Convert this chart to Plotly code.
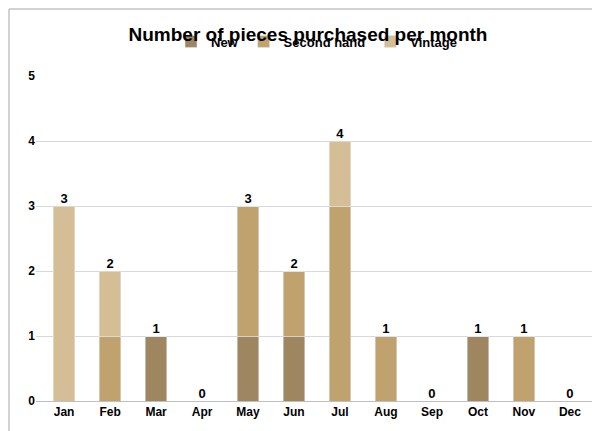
import plotly.graph_objects as go

months = ["Jan","Feb","Mar","Apr","May","Jun","Jul","Aug","Sep","Oct","Nov","Dec"]
new = [0,0,1,0,1,1,0,0,0,1,0,0]
second = [0,1,0,0,2,1,3,1,0,0,1,0]
vintage = [3,1,0,0,0,0,1,0,0,0,0,0]
totals = [a+b+c for a,b,c in zip(new, second, vintage)]

fig = go.Figure()
fig.add_bar(x=months, y=new, name="<b>New</b>", marker_color="#9E8661")
fig.add_bar(x=months, y=second, name="<b>Second hand</b>", marker_color="#BFA26E")
fig.add_bar(x=months, y=vintage, name="<b>Vintage</b>", marker_color="#D5BE95")
fig.add_scatter(x=months, y=totals, mode="text", text=[f"<b>{t}</b>" for t in totals],
                textposition="top center", textfont=dict(size=13, color="black"),
                showlegend=False, hoverinfo="skip", cliponaxis=False)
fig.update_layout(
    barmode="stack", bargap=0.53, width=600, height=431,
    paper_bgcolor="white", plot_bgcolor="white",
    font=dict(family="Liberation Sans, Arial", size=12, color="black"),
    title=dict(text="<b>Number of pieces purchased per month</b>", x=0.5, xanchor="center", y=0.955, font=dict(size=19)),
    legend=dict(orientation="h", x=0.5, xanchor="center", y=1.06, yanchor="bottom", font=dict(size=13),
                traceorder="normal", itemwidth=30, entrywidthmode="pixels"),
    margin=dict(l=28, r=10, t=68, b=38),
    xaxis=dict(showline=True, linecolor="#BFBFBF", tickfont=dict(size=12), ticks="",
               tickvals=months, ticktext=[f"<b>{m}</b>" for m in months]),
    yaxis=dict(range=[0,5], tickvals=[0,1,2,3,4,5], ticktext=[f"<b>{v}</b>" for v in range(6)],
               gridcolor="#D9D9D9", zeroline=False, tickfont=dict(size=12), ticks=""),
    shapes=[dict(type="rect", xref="paper", yref="paper", x0=-27/562, x1=1+9/562, y0=-37/325, y1=1+67/325,
                 line=dict(color="#A6A6A6", width=1))],
)
fig.write_html("out.html")
